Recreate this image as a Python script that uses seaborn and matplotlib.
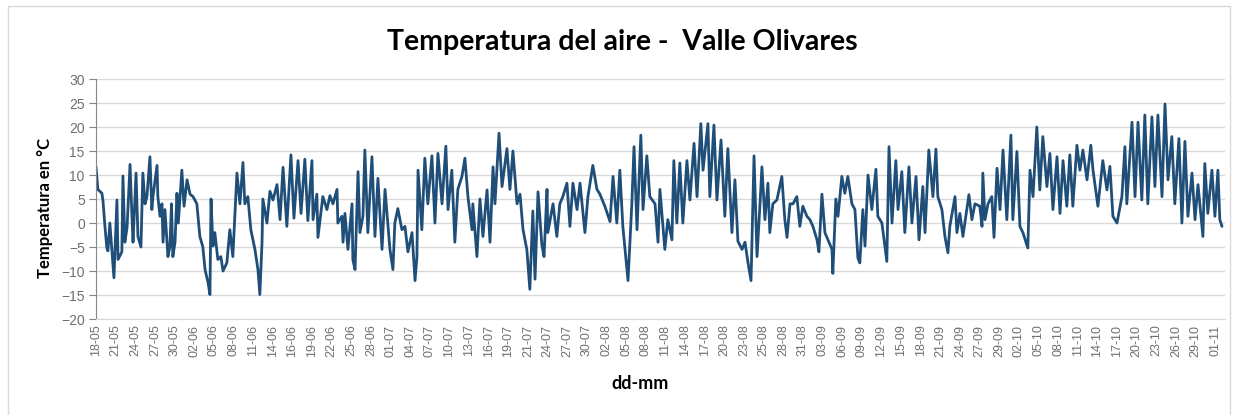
import numpy as np
import pandas as pd
import seaborn as sns
import matplotlib.pyplot as plt
from matplotlib.patches import Rectangle

# Registro horario (n.º de registro) y temperatura del aire
registro = [
    0, 7, 22, 26, 33, 40, 44, 51, 59, 66, 77, 81, 95, 99, 106, 114, 125, 132, 136, 147,
    154, 165, 172, 180, 187, 198, 205, 209, 224, 227, 235, 242, 246, 253, 264, 271, 277, 282, 290, 297,
    302, 315, 323, 334, 345, 356, 370, 381, 392, 400, 411, 418, 422, 429, 436, 447, 458, 466, 480, 491,
    502, 517, 528, 539, 546, 557, 568, 583, 594, 601, 609, 612, 627, 638, 649, 664, 675, 686, 700, 715,
    726, 741, 752, 766, 777, 792, 796, 810, 814,
    832, 847, 858, 869, 884, 887, 902, 906, 913, 924, 939, 942, 950, 961, 968, 979, 986, 997, 1012, 1023,
    1034, 1049, 1060, 1078, 1089, 1096, 1107, 1122, 1133, 1144, 1159, 1170, 1177, 1181, 1195, 1206, 1217, 1232, 1243, 1254,
    1269, 1283, 1291, 1305, 1316, 1327, 1342, 1353, 1364, 1379, 1382, 1397, 1408, 1419, 1434, 1445, 1456, 1463, 1478, 1489,
    1507, 1518, 1529, 1544, 1555, 1566, 1580, 1591, 1602, 1610, 1621,
    1635, 1643, 1654, 1657, 1676, 1690, 1701, 1712, 1727, 1738, 1749, 1764, 1775, 1793, 1804, 1822, 1837, 1848, 1866, 1885,
    1896, 1910, 1921, 1932, 1951, 1965, 1973, 1984, 1998, 2006, 2020, 2031, 2050, 2061, 2068, 2086, 2097, 2112, 2119, 2130,
    2141, 2152, 2167, 2178, 2193, 2204, 2218, 2226, 2244, 2251, 2266, 2277, 2292, 2306, 2317, 2332, 2343, 2354, 2369, 2380,
    2391, 2402, 2413,
    2424, 2435, 2442, 2453, 2464, 2471, 2482, 2497, 2515, 2526, 2534, 2545, 2556, 2570, 2581, 2592, 2607, 2618, 2629, 2644,
    2651, 2662, 2673, 2684, 2699, 2702, 2713, 2721, 2735, 2746, 2757, 2772, 2783, 2794, 2801, 2812, 2820, 2831, 2845, 2860,
    2867, 2882, 2900, 2908, 2919, 2933, 2941, 2955, 2966, 2981, 2992, 3007, 3018, 3032, 3040, 3054, 3069, 3080, 3087, 3102,
    3113, 3124, 3131, 3150, 3157, 3168, 3179, 3201, 3212, 3223, 3241,
    3249, 3252, 3260, 3271, 3285, 3293, 3304, 3315, 3326, 3340, 3355, 3362, 3377, 3388, 3399, 3417, 3425, 3436, 3450, 3461,
    3472, 3487, 3498, 3509, 3524, 3535, 3546, 3560, 3571, 3582, 3597, 3608, 3619, 3634, 3648, 3656, 3674, 3692, 3707, 3718,
    3729, 3744, 3762, 3773, 3780, 3799, 3810, 3821, 3835, 3846, 3857, 3872, 3883, 3894, 3909, 3920, 3931, 3945, 3956, 3971,
    3982, 3993, 4004, 4019, 4030, 4041, 4059, 4066, 4077, 4092, 4103, 4114, 4121, 4129,
]
temperatura = [
    11.8, 7, 6.2, 4.5, -0.7, -5.2, -5.8, 0, -6, -11.4, 4.8, -7.6, -6, 9.8, -4, -1, 12.2, 1.4, -4, 10.4,
    -2.8, -5, 10.4, 4, 5.5, 13.8, 2.8, 5.5, 12, 5.5, 1.4, 4, -4, 2.8, -7, -5, 4, -7, -4, 6.2,
    0, 11, 3.5, 9, 6, 5.5, 4, -2.8, -5, -9.7, -12.4, -14.9, 5, -4.8, -2, -7.6, -7, -10, -8.3, -1.4,
    -7, 10.4, 4, 12.6, 4, 5.5, -1.4, -5.5, -9.7, -14.9, -4, 5, 0, 6.6, 4.8, 8, 0.7, 11.6, -0.7, 14.2,
    1, 13, 2, 13.3, 0.5, 13, 0.7, 6, -3,
    5.5, 2.8, 5.7, 4, 7, 0, 1.4, -4, 2, -5.5, 4, -7.6, -9.7, 10.7, -2, 1.4, 15.2, -2, 13.8, -2.8,
    9.3, -5.5, 7, -5.5, -9.7, 0, 3, -1.4, -0.7, -6, -2, -12, -7, 11, -1.4, 13.5, 4, 14, 0, 14.5,
    4, 16, 2.8, 11, -4, 7, 9.7, 13.5, 5.5, -1.4, 4, -7, 5, -2.8, 6.9, -4, 11.7, 4, 18.7, 7.6,
    15.5, 7, 15, 4, 6, -1.4, -5.5, -13.8, 2.5, -11.7, 6.5,
    -4.5, -7, 7, -2, 4, -2.8, 4, 5.5, 8.3, -0.7, 8.3, 2.8, 8.3, -2, 5.5, 12, 7, 6, 3.5, 0.3,
    9.7, 0, 11, -0.7, -12, 4, 15.9, -1.4, 18.3, 2.8, 14, 5.5, 4, -4, 7, -5.5, 0.7, -3.5, 13, 0,
    12.5, 0, 13, 4.8, 16.6, 5.5, 20.7, 11, 20.7, 5.5, 20.4, 4.8, 17.3, 1.4, 15.5, -2, 9, -3.8, -5.5, -4,
    -8.3, -12, 14,
    -7, 4, 11.7, 0.7, 8.3, -2, 4, 4.8, 9.7, 0.7, -3, 4, 4, 5.5, -0.7, 3.5, 1.4, 0.7, -0.7, -3.5,
    -6, 6, -2, -3.5, -5.5, -10.5, 5, 1.4, 9.7, 6.2, 9.7, 4, 2.8, -7.3, -8.3, 2.8, -4.8, 10, 2.8, 11.2,
    1.4, 0, -8, 15.9, 0, 13, 2.8, 10.7, -2, 11.7, 0, 9.7, -3.5, 7.6, -2, 15.2, 5.5, 15.4, 5.5, 2.8,
    -2.8, -6.2, -0.7, 5.5, -2, 2, -2.8, 5.9, 0.7, 4, 3.5,
    -0.7, 10.4, 0.7, 4, 5.5, -3, 11.4, 2.8, 15.2, 0.7, 18.3, 0.7, 14.9, -0.7, -2, -5.2, 11, 5.5, 20, 6.9,
    18, 7.6, 14.5, 2.8, 13.8, 2, 13, 3.5, 14.2, 3.5, 16.2, 11, 15.2, 9, 16.2, 11, 3.5, 13, 6.9, 11.8,
    1.4, 0, 5.5, 15.9, 4, 21, 5.5, 21, 4.8, 22.5, 4, 22.1, 7.6, 22.5, 5.5, 24.8, 9, 18, 4, 17.6,
    0, 17, 1.4, 10.4, 0.7, 8, -2.8, 12.4, 2, 11, 1.4, 11, 0.7, -0.7,
]
etiquetas = [
    '18-05', '21-05', '24-05', '27-05', '30-05', '02-06', '05-06', '08-06', '11-06', '14-06',
    '16-06', '19-06', '22-06', '25-06', '28-06', '01-07', '04-07', '07-07', '10-07', '13-07',
    '16-07', '19-07', '21-07', '24-07', '27-07', '30-07', '02-08', '05-08', '08-08', '11-08',
    '14-08', '17-08', '20-08', '23-08', '25-08', '28-08', '31-08', '03-09', '06-09', '09-09',
    '12-09', '15-09', '18-09', '21-09', '24-09', '27-09', '29-09', '02-10', '05-10', '08-10',
    '11-10', '14-10', '17-10', '20-10', '23-10', '26-10', '29-10', '01-11',
]
paso_etiqueta = 72  # registros entre etiquetas

df = pd.DataFrame({'registro': registro, 'temperatura': temperatura})

sns.set_style('white')
plt.rcParams['font.family'] = ['Liberation Sans', 'DejaVu Sans']

fig = plt.figure(figsize=(12.38, 4.15), dpi=100)
ax = fig.add_axes([0.0775, 0.2313, 0.912, 0.5783])

sns.lineplot(data=df, x='registro', y='temperatura', color='#1f4e79',
             linewidth=2.0, ax=ax)

ax.set_ylim(-20, 30)
ax.set_yticks(range(-20, 31, 5))
ax.set_xlim(0, 4140)
ax.set_xticks(np.arange(len(etiquetas)) * paso_etiqueta)
ax.set_xticklabels(etiquetas, rotation=90)
ax.grid(axis='y', color='#d9d9d9', linewidth=1)
ax.set_axisbelow(True)
ax.tick_params(axis='y', length=5, color='#868686', labelsize=10,
               labelcolor='#6f6f6f', direction='out', pad=3, left=True)
ax.tick_params(axis='x', length=0, labelsize=9, labelcolor='#6f6f6f', pad=4)
for s in ['top', 'right']:
    ax.spines[s].set_visible(False)
ax.spines['left'].set_color('#868686')
ax.spines['bottom'].set_color('#d9d9d9')
ax.set_xlabel('')
ax.set_ylabel('')

fig.text(0.503, 0.899, 'Temperatura del aire -  Valle Olivares', ha='center',
         va='center', fontsize=20.5, fontweight='bold', family='Lato', color='black')
fig.text(0.036, 0.5, 'Temperatura en °C', rotation=90, ha='center',
         va='center', fontsize=12, fontweight='bold', family='Lato', color='black')
fig.text(0.517, 0.077, 'dd-mm', ha='center', va='center', fontsize=13,
         fontweight='bold', family='Lato', color='black')

fig.patches.append(Rectangle((0.0065, -0.05), 0.987, 1.036, transform=fig.transFigure,
                             fill=False, edgecolor='#d9d9d9', linewidth=1))

fig.savefig('out.png', dpi=100, facecolor='white')
